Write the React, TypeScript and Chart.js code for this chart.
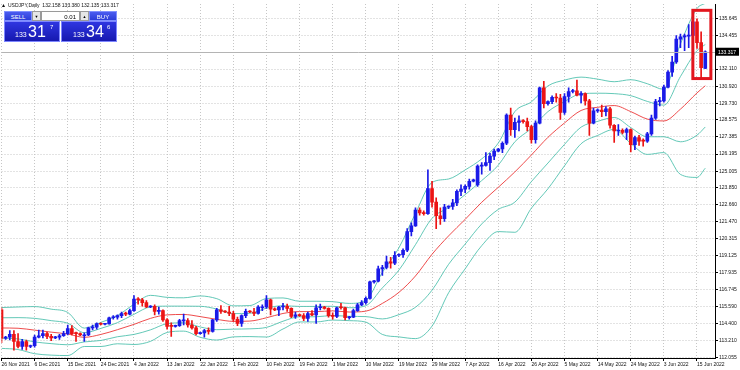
import React, { useEffect, useRef } from 'react';
import { Chart, registerables } from 'chart.js';

Chart.register(...registerables);

// ---- x-axis tick labels (one every 8 bars) ----
const tickLabels = [
  '26 Nov 2021', '6 Dec 2021', '15 Dec 2021', '24 Dec 2021', '4 Jan 2022', '13 Jan 2022',
  '22 Jan 2022', '1 Feb 2022', '10 Feb 2022', '19 Feb 2022', '1 Mar 2022', '10 Mar 2022',
  '19 Mar 2022', '29 Mar 2022', '7 Apr 2022', '16 Apr 2022', '26 Apr 2022', '5 May 2022',
  '14 May 2022', '24 May 2022', '3 Jun 2022', '15 Jun 2022',
];
const barsPerLabel = 8;
const totalSlots = 172.35; // bars + right shift

// ---- price-axis tick labels ----
const priceTicks = [
  112.055, 113.21, 114.4, 115.59, 116.745, 117.935, 119.125, 120.315, 121.47, 122.66,
  123.85, 125.005, 126.195, 127.385, 128.575, 129.73, 130.92, 132.11, 134.455, 135.645,
];

// ---- daily candles USDJPY ----
const opens = [
  115.35, 113.38, 113.45, 113.65, 113.15, 112.80, 113.15, 112.80, 112.85, 113.45,
  113.55, 113.70, 113.50, 113.40, 113.45, 113.55, 113.70, 114.05, 113.75, 113.70,
  113.55, 113.60, 114.10, 114.15, 114.40, 114.35, 114.38, 114.80, 114.85, 114.95,
  115.10, 115.05, 115.30, 116.10, 116.05, 115.85, 115.55, 115.60, 115.25, 115.30,
  114.65, 114.25, 114.20, 114.25, 114.58, 114.60, 114.30, 114.10, 113.70, 113.75,
  113.90, 113.85, 114.65, 115.35, 115.25, 115.20, 115.10, 114.70, 114.40, 114.95,
  115.25, 115.20, 115.10, 115.50, 115.55, 116.05, 115.40, 115.35, 115.55, 115.60,
  115.45, 114.90, 115.00, 114.95, 114.75, 115.10, 115.00, 115.50, 115.55, 115.45,
  114.95, 114.90, 115.52, 115.50, 114.80, 114.85, 115.30, 115.70, 115.85, 116.15,
  117.30, 117.35, 118.20, 118.30, 118.70, 118.60, 119.15, 119.20, 119.50, 120.80,
  121.20, 122.30, 122.10, 122.05, 123.80, 122.85, 121.90, 121.70, 122.50, 122.55,
  122.80, 123.60, 123.75, 123.95, 124.30, 124.05, 125.35, 125.40, 125.60, 126.05,
  126.40, 126.55, 126.95, 128.90, 127.90, 128.40, 128.50, 128.45, 128.10, 127.20,
  128.35, 130.80, 129.70, 129.85, 130.15, 130.10, 129.10, 130.20, 130.55, 130.60,
  130.30, 130.40, 129.90, 128.35, 129.20, 129.25, 129.15, 129.35, 128.20, 127.80,
  127.85, 127.70, 127.90, 126.85, 127.35, 127.15, 127.10, 127.60, 128.70, 129.85,
  129.90, 130.85, 131.90, 132.60, 134.20, 134.35, 134.40, 134.45, 135.40, 133.95,
  132.158,
];
const highs = [
  115.50, 113.50, 113.90, 113.90, 113.70, 113.30, 113.25, 112.90, 113.60, 113.95,
  113.95, 113.80, 113.65, 113.50, 113.65, 113.85, 114.30, 114.25, 113.80, 113.75,
  113.75, 114.15, 114.30, 114.45, 114.45, 114.42, 114.85, 114.95, 115.00, 115.20,
  115.20, 115.40, 116.35, 116.20, 116.15, 116.00, 115.65, 115.70, 115.55, 115.35,
  114.75, 114.45, 114.30, 114.70, 115.05, 114.75, 114.60, 114.20, 113.80, 114.00,
  114.10, 114.70, 115.45, 115.65, 115.30, 115.60, 115.25, 114.85, 115.00, 115.40,
  115.30, 115.45, 115.65, 115.70, 116.35, 116.10, 115.50, 115.60, 115.80, 115.75,
  115.50, 115.20, 115.05, 115.10, 115.20, 115.30, 115.70, 115.75, 115.60, 115.50,
  115.15, 115.55, 115.80, 115.55, 114.90, 115.40, 115.80, 116.00, 116.25, 117.35,
  117.40, 118.40, 118.45, 119.10, 119.00, 119.40, 119.25, 119.60, 121.00, 121.40,
  122.45, 122.45, 122.25, 125.10, 124.30, 123.15, 122.45, 122.70, 122.60, 123.05,
  123.70, 124.05, 124.05, 124.45, 124.45, 125.45, 125.60, 126.30, 126.25, 126.55,
  126.60, 127.05, 129.00, 129.40, 128.70, 128.85, 128.60, 128.70, 128.20, 128.50,
  130.85, 131.25, 129.90, 130.25, 130.40, 130.35, 130.40, 130.80, 130.70, 131.35,
  130.55, 130.45, 130.00, 129.40, 129.35, 129.60, 129.50, 129.45, 128.25, 128.25,
  127.95, 128.00, 127.95, 127.45, 127.50, 127.25, 127.70, 128.90, 130.00, 130.15,
  131.00, 132.00, 133.00, 134.45, 134.55, 134.55, 135.20, 135.45, 135.60, 134.70,
  133.380,
];
const lows = [
  113.06, 113.30, 113.25, 112.55, 112.70, 112.60, 112.55, 112.72, 112.75, 113.40,
  113.40, 113.35, 113.20, 113.35, 113.30, 113.50, 113.60, 113.60, 113.15, 113.55,
  113.15, 113.55, 113.95, 114.00, 114.30, 114.30, 114.35, 114.70, 114.70, 114.80,
  114.95, 115.00, 115.25, 115.75, 115.60, 115.50, 115.50, 115.00, 115.05, 114.55,
  114.00, 113.50, 114.15, 114.20, 114.30, 114.15, 114.00, 113.60, 113.65, 113.45,
  113.65, 113.80, 114.55, 115.10, 115.15, 114.95, 114.55, 114.25, 114.20, 114.80,
  115.15, 114.95, 115.05, 115.30, 115.45, 115.00, 115.30, 114.95, 115.35, 115.25,
  114.80, 114.75, 114.90, 114.60, 114.55, 114.95, 114.40, 115.35, 115.40, 114.85,
  114.70, 114.80, 115.40, 114.65, 114.70, 114.80, 115.25, 115.65, 115.75, 116.10,
  117.20, 117.30, 117.75, 118.20, 118.25, 118.50, 119.05, 119.00, 119.40, 120.50,
  121.15, 121.95, 121.95, 122.00, 122.50, 121.00, 121.30, 121.50, 122.40, 122.35,
  122.60, 123.30, 123.50, 123.75, 124.25, 123.95, 124.80, 125.35, 125.05, 125.80,
  126.35, 126.30, 126.85, 127.50, 127.35, 127.80, 128.35, 127.80, 126.95, 126.95,
  128.30, 129.40, 129.60, 129.70, 129.80, 128.60, 128.95, 129.80, 130.45, 130.25,
  129.75, 129.60, 127.50, 128.30, 129.10, 128.80, 128.85, 128.00, 127.00, 127.50,
  127.60, 127.20, 126.35, 126.50, 126.80, 126.75, 127.00, 127.50, 128.60, 129.55,
  129.80, 130.80, 131.60, 132.50, 133.60, 133.40, 133.60, 134.20, 133.55, 131.50,
  132.135,
];
const closes = [
  113.38, 113.45, 113.65, 113.15, 112.80, 113.15, 112.80, 112.85, 113.45, 113.55,
  113.70, 113.50, 113.40, 113.45, 113.55, 113.70, 114.05, 113.70, 113.70, 113.60,
  113.60, 114.10, 114.15, 114.40, 114.35, 114.38, 114.80, 114.85, 114.95, 115.10,
  115.05, 115.30, 116.10, 116.05, 115.85, 115.55, 115.60, 115.25, 115.30, 114.65,
  114.20, 114.20, 114.25, 114.60, 114.60, 114.30, 114.10, 113.70, 113.75, 113.90,
  113.85, 114.65, 115.35, 115.25, 115.20, 115.10, 114.70, 114.40, 114.95, 115.25,
  115.20, 115.10, 115.55, 115.55, 116.05, 115.40, 115.35, 115.55, 115.60, 115.45,
  114.90, 115.00, 114.95, 114.75, 115.10, 115.00, 115.50, 115.55, 115.45, 114.95,
  114.90, 115.50, 115.50, 114.80, 114.85, 115.30, 115.70, 115.85, 116.15, 117.30,
  117.35, 118.20, 118.30, 118.70, 118.60, 119.15, 119.20, 119.50, 120.80, 121.20,
  122.30, 122.10, 122.05, 123.80, 122.85, 121.90, 121.70, 122.50, 122.55, 122.80,
  123.60, 123.75, 123.95, 124.30, 124.40, 125.35, 125.40, 125.60, 126.05, 126.40,
  126.55, 126.95, 128.90, 127.90, 128.40, 128.50, 128.45, 128.10, 127.20, 128.35,
  130.80, 129.70, 129.85, 130.15, 130.10, 129.10, 130.20, 130.55, 130.60, 130.30,
  130.40, 129.90, 128.35, 129.20, 129.25, 129.15, 129.35, 128.20, 127.80, 127.85,
  127.70, 127.90, 126.85, 127.35, 127.10, 127.10, 127.60, 128.70, 129.85, 129.90,
  130.85, 131.90, 132.60, 134.20, 134.35, 134.40, 134.45, 135.40, 133.95, 132.20,
  133.317,
];

// ---- Bollinger lines read at every 4th bar ----
const bandIndex = [
  0, 4, 8, 12, 16, 20, 24, 28, 32, 36, 40, 44, 48, 52, 56, 60, 64, 68, 72, 76, 80, 84,
  88, 92, 96, 100, 104, 108, 112, 116, 120, 124, 128, 132, 136, 140, 144, 148, 152, 156,
  160, 164, 168, 170,
];
const bbUpper2 = [
  115.51, 115.55, 115.58, 115.40, 115.17, 114.08, 114.48, 114.95, 115.74, 116.36, 116.22,
  116.19, 116.32, 116.13, 115.63, 115.65, 116.14, 116.18, 115.95, 115.95, 115.92, 115.80,
  116.02, 117.96, 119.67, 122.07, 124.22, 124.46, 125.09, 125.86, 126.96, 129.15, 129.83,
  130.94, 131.34, 131.55, 131.41, 131.23, 131.37, 131.09, 130.70, 133.86, 136.33, 136.69,
];
const bbUpper1 = [
  114.80, 114.81, 114.76, 114.60, 114.42, 113.76, 114.06, 114.46, 115.04, 115.56, 115.61,
  115.61, 115.60, 115.41, 115.09, 115.11, 115.47, 115.64, 115.59, 115.59, 115.60, 115.50,
  115.64, 116.88, 118.12, 119.89, 121.72, 122.48, 123.37, 124.35, 125.42, 127.05, 127.98,
  129.15, 129.85, 130.39, 130.43, 130.40, 130.26, 129.86, 129.60, 131.59, 133.39, 133.82,
];
const sma20 = [
  114.09, 114.07, 113.94, 113.80, 113.67, 113.44, 113.64, 113.97, 114.34, 114.76, 115.00,
  115.03, 114.88, 114.69, 114.55, 114.57, 114.80, 115.10, 115.23, 115.23, 115.28, 115.20,
  115.26, 115.80, 116.57, 117.71, 119.22, 120.50, 121.65, 122.84, 123.88, 124.95, 126.13,
  127.36, 128.36, 129.23, 129.45, 129.57, 129.15, 128.63, 128.50, 129.32, 130.45, 130.95,
];
const bbLower1 = [
  113.38, 113.33, 113.12, 113.00, 112.92, 113.12, 113.22, 113.48, 113.64, 113.96, 114.39,
  114.45, 114.16, 113.97, 114.01, 114.03, 114.13, 114.56, 114.87, 114.87, 114.96, 114.90,
  114.88, 114.72, 115.02, 115.53, 116.72, 118.52, 119.93, 121.33, 122.34, 122.85, 124.28,
  125.57, 126.87, 128.07, 128.47, 128.74, 128.04, 127.40, 127.40, 127.05, 127.51, 128.08,
];
const bbLower2 = [
  112.67, 112.59, 112.30, 112.20, 112.17, 112.80, 112.80, 112.99, 112.94, 113.16, 113.78,
  113.87, 113.44, 113.25, 113.47, 113.49, 113.46, 114.02, 114.51, 114.51, 114.64, 114.60,
  114.50, 113.64, 113.47, 113.35, 114.22, 116.54, 118.21, 119.82, 120.80, 120.75, 122.43,
  123.78, 125.38, 126.91, 127.49, 127.91, 126.93, 126.17, 126.30, 124.78, 124.57, 125.21,
];

const lastPrice = 133.317;
const titleText = 'USDJPY,Daily  132.158 133.380 132.135 133.317';
const highlight = { fromIndex: 167.0, toIndex: 171.35, high: 136.2, low: 131.45 };

const UP = 'rgb(26,26,232)';
const DOWN = 'rgb(236,20,20)';
const BAND = 'rgba(72,190,170,0.85)';
const MID = 'rgba(236,56,56,0.9)';
const GRID = '#c6c6c6';
const FONT = "'Liberation Sans', Arial, sans-serif";

const overlayPlugin = {
  id: 'mtOverlay',
  afterDatasetsDraw(chart: any) {
    const { ctx, chartArea, scales } = chart;
    const xs = scales.x;
    const ys = scales.y;
    ctx.save();
    const py = Math.round(ys.getPixelForValue(lastPrice)) + 0.5;
    ctx.strokeStyle = '#b4b4b4';
    ctx.lineWidth = 1;
    ctx.beginPath();
    ctx.moveTo(chartArea.left, py);
    ctx.lineTo(chartArea.right, py);
    ctx.stroke();
    const x0 = xs.getPixelForValue(highlight.fromIndex);
    const x1 = xs.getPixelForValue(highlight.toIndex);
    const y0 = ys.getPixelForValue(highlight.high);
    const y1 = ys.getPixelForValue(highlight.low);
    ctx.strokeStyle = 'rgb(226,22,30)';
    ctx.lineWidth = 3;
    ctx.strokeRect(x0, y0, x1 - x0, y1 - y0);
    ctx.restore();
  },
  afterDraw(chart: any) {
    const { ctx, chartArea, scales } = chart;
    const py = scales.y.getPixelForValue(lastPrice);
    ctx.save();
    ctx.fillStyle = '#000';
    ctx.fillRect(chartArea.right + 1, py - 4, 23, 8);
    ctx.fillStyle = '#fff';
    ctx.font = `5px ${FONT}`;
    ctx.textBaseline = 'middle';
    ctx.textAlign = 'left';
    ctx.fillText(lastPrice.toFixed(3), chartArea.right + 3, py + 0.5);
    // title
    ctx.fillStyle = '#111';
    ctx.beginPath();
    ctx.moveTo(2, 7);
    ctx.lineTo(5, 7);
    ctx.lineTo(3.5, 4);
    ctx.closePath();
    ctx.fill();
    ctx.font = `5px ${FONT}`;
    ctx.fillText(titleText, 8, 5.5);
    ctx.restore();
  },
};

function lineSet(values: number[], color: string) {
  return {
    type: 'line' as const,
    data: bandIndex.map((x, k) => ({ x, y: values[k] })),
    borderColor: color,
    borderWidth: 1,
    pointRadius: 0,
    cubicInterpolationMode: 'monotone' as const,
    fill: false,
    order: 2,
  };
}

export default function App() {
  const ref = useRef<HTMLCanvasElement | null>(null);

  useEffect(() => {
    if (!ref.current) return;
    const colors = closes.map((c, i) => (c >= opens[i] ? UP : DOWN));
    const chart = new Chart(ref.current, {
      type: 'bar',
      data: {
        datasets: [
          {
            type: 'bar',
            data: closes.map((c, i) => ({ x: i, y: [opens[i], c] })) as any,
            backgroundColor: colors,
            borderWidth: 0,
            barThickness: 3,
            minBarLength: 1,
            grouped: false,
            order: 0,
          },
          {
            type: 'bar',
            data: closes.map((_, i) => ({ x: i, y: [lows[i], highs[i]] })) as any,
            backgroundColor: colors,
            borderWidth: 0,
            barThickness: 1,
            grouped: false,
            order: 1,
          },
          lineSet(bbUpper2, BAND),
          lineSet(bbUpper1, BAND),
          lineSet(bbLower1, BAND),
          lineSet(bbLower2, BAND),
          lineSet(sma20, MID),
        ] as any,
      },
      options: {
        animation: false,
        responsive: false,
        devicePixelRatio: 1,
        layout: { padding: { left: 1.5, top: 3, right: 0, bottom: 0 } },
        plugins: { legend: { display: false }, tooltip: { enabled: false } },
        scales: {
          x: {
            type: 'linear',
            min: 0,
            max: totalSlots,
            offset: false,
            grid: { color: GRID, offset: false, tickColor: '#000', tickLength: 3, drawTicks: true },
            border: { color: '#000', dash: [1, 2] },
            ticks: {
              align: 'start',
              autoSkip: false,
              maxRotation: 0,
              minRotation: 0,
              padding: 1,
              color: '#111',
              font: { family: FONT, size: 5 },
              callback: (v: any) => tickLabels[Math.round(Number(v) / barsPerLabel)] ?? '',
            },
            afterBuildTicks: (ax: any) => {
              ax.ticks = tickLabels.map((_, k) => ({ value: k * barsPerLabel }));
            },
            afterFit: (s: any) => {
              s.height = 12;
            },
          },
          y: {
            position: 'right',
            min: 112.0,
            max: 136.64,
            grid: { color: GRID, tickColor: '#000', tickLength: 3, drawTicks: true },
            border: { color: '#000', dash: [1, 2] },
            ticks: {
              autoSkip: false,
              padding: 1,
              color: '#111',
              font: { family: FONT, size: 5 },
              callback: (v: any) => Number(v).toFixed(3),
            },
            afterBuildTicks: (ax: any) => {
              ax.ticks = priceTicks.map((v) => ({ value: v }));
            },
            afterFit: (s: any) => {
              s.width = 25;
            },
          },
        },
      } as any,
      plugins: [overlayPlugin],
    });
    return () => chart.destroy();
  }, []);

  const btn: React.CSSProperties = {
    position: 'absolute',
    top: 11,
    height: 10,
    boxSizing: 'border-box',
    fontFamily: FONT,
    fontSize: 6,
    lineHeight: '10px',
    textAlign: 'center',
  };
  const blueBtn: React.CSSProperties = {
    ...btn,
    background: 'linear-gradient(#4a5cf0, #2c3dd8)',
    color: '#fff',
    border: '1px solid #8090ff',
  };
  const greyBtn: React.CSSProperties = {
    ...btn,
    background: '#e6e6e6',
    color: '#000',
    border: '1px solid #9a9a9a',
    fontSize: 4,
  };
  const priceBox: React.CSSProperties = {
    position: 'absolute',
    top: 21,
    width: 56,
    height: 21,
    boxSizing: 'border-box',
    background: 'linear-gradient(#2f36e0, #1618b0)',
    border: '1px solid #7d86ff',
    color: '#fff',
    fontFamily: FONT,
  };
  const txt = (left: number, top: number, size: number): React.CSSProperties => ({
    position: 'absolute',
    left,
    top,
    fontSize: size,
    lineHeight: 1,
    whiteSpace: 'nowrap',
  });

  return (
    <div
      style={{
        position: 'fixed',
        left: 0,
        top: 0,
        width: 740,
        height: 370,
        background: '#fff',
        overflow: 'hidden',
      }}
    >
      <canvas ref={ref} width={740} height={370} style={{ position: 'absolute', left: 0, top: 0 }} />
      <div style={{ ...blueBtn, left: 4, width: 28 }}>SELL</div>
      <div style={{ ...greyBtn, left: 32, width: 9 }}>▼</div>
      <div
        style={{
          ...btn,
          left: 41,
          width: 39,
          background: '#fff',
          border: '1px solid #9a9a9a',
          color: '#000',
          textAlign: 'right',
          paddingRight: 3,
        }}
      >
        0.01
      </div>
      <div style={{ ...greyBtn, left: 80, width: 9 }}>▲</div>
      <div style={{ ...blueBtn, left: 89, width: 28 }}>BUY</div>
      <div style={{ ...priceBox, left: 4 }}>
        <span style={txt(10, 9, 7)}>133</span>
        <span style={txt(23, 1.5, 16)}>31</span>
        <span style={txt(45, 1.5, 6)}>7</span>
      </div>
      <div style={{ ...priceBox, left: 61 }}>
        <span style={txt(11, 9, 7)}>133</span>
        <span style={txt(24, 1.5, 16)}>34</span>
        <span style={txt(45, 1.5, 6)}>6</span>
      </div>
    </div>
  );
}
